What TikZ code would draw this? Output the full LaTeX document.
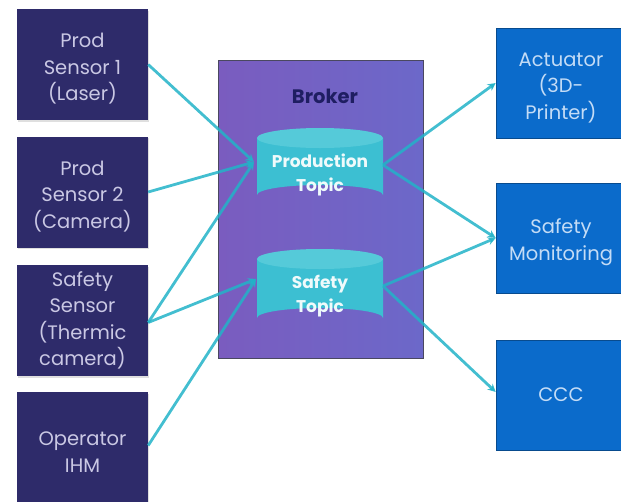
\documentclass[tikz,border=0pt]{standalone}
\usepackage{fontspec}
\setmainfont{Poppins}
\usetikzlibrary{arrows.meta,shadows}

\definecolor{sensorfill}{HTML}{2E2B6A}
\definecolor{sensortext}{HTML}{CAC8E4}
\definecolor{outfill}{HTML}{0B6BCB}
\definecolor{outtext}{HTML}{C4DCF6}
\definecolor{brokerA}{HTML}{7A5CBF}
\definecolor{brokerB}{HTML}{6C68C9}
\definecolor{brokerline}{HTML}{4A4860}
\definecolor{brokertext}{HTML}{1F1E62}
\definecolor{topicbody}{HTML}{3CBFD2}
\definecolor{topictop}{HTML}{55CAD9}
\definecolor{linkcol}{HTML}{22B3C8}

% a strut on the first line lowers the label a little inside its box
\newcommand{\firstlinestrut}{\rule{0pt}{23pt}}

\tikzset{
  sensorbox/.style={rectangle, fill=sensorfill, text=sensortext, minimum width=131pt,
    minimum height=111pt, align=center, font=\fontsize{19.5}{26.5}\selectfont,
    drop shadow={opacity=0.25, shadow xshift=0.6pt, shadow yshift=-1.5pt}},
  outbox/.style={rectangle, fill=outfill, text=outtext, minimum width=130pt,
    minimum height=110pt, align=center, font=\fontsize{19.5}{26.5}\selectfont,
    draw=outfill!70!black, line width=0.6pt, inner sep=1pt},
  topiclabel/.style={text=white!92!topicbody, align=center, inner sep=0pt,
    minimum width=126pt, minimum height=40pt, font=\bfseries\fontsize{17}{23.5}\selectfont},
  link/.style={draw=linkcol, opacity=0.85, line width=2.8pt,
    -{Stealth[length=8pt,width=8pt]}},
}

\begin{document}
\begin{tikzpicture}[x=1pt,y=-1pt]
\useasboundingbox (0,0) rectangle (621,501);
\clip (0,0) rectangle (621,501);

% producers on the left
\node[sensorbox] (s1) at (82.5,64.5) {\firstlinestrut Prod\\Sensor 1\\(Laser)};
\node[sensorbox] (s2) at (82.5,192) {\firstlinestrut Prod\\Sensor 2\\(Camera)};
\node[sensorbox, inner sep=0pt] (s3) at (82.5,320.5) {Safety\\Sensor\\(Thermic\\camera)};
\node[sensorbox] (s4) at (82.5,447.5) {\firstlinestrut Operator\\IHM};

% broker
\node[rectangle, minimum width=205pt, minimum height=298pt, draw=brokerline,
  line width=0.8pt, left color=brokerA, right color=brokerB] (broker) at (320.5,209) {};
\node[text=brokertext, font=\bfseries\fontsize{19.5}{22}\selectfont] (brokerlbl) at (325,96) {Broker};

% production topic cylinder
\fill[topicbody] (257,138) -- (257,195) arc[start angle=180, end angle=360, x radius=63, y radius=10] -- (383,138) -- cycle;
\fill[topictop] (320,138) ellipse[x radius=63, y radius=10];
\node[topiclabel] (prod) at (320,175) {Production\\Topic};

% safety topic cylinder
\fill[topicbody] (257,259) -- (257,318) arc[start angle=180, end angle=360, x radius=63, y radius=10] -- (383,259) -- cycle;
\fill[topictop] (320,259) ellipse[x radius=63, y radius=10];
\node[topiclabel] (safe) at (320,296) {Safety\\Topic};

\coordinate (prodin) at (254,162);
\coordinate (prodout) at (383,165);
\coordinate (safein) at (256,279);
\coordinate (safeout) at (383,286);

% consumers on the right
\node[outbox] (act) at (561,83) {\firstlinestrut Actuator\\(3D-\\Printer)};
\node[outbox] (mon) at (561,238) {\firstlinestrut Safety\\Monitoring};
\node[outbox] (ccc) at (561,395) {CCC};

% links into the broker
\draw[link] (s1.east) -- (prodin);
\draw[link] (s2.east) -- (prodin);
\draw[link] ([yshift=-2pt]s3.east) -- (prodin);
\draw[link] ([yshift=-2pt]s3.east) -- (safein);
\draw[link] ([yshift=2pt]s4.east) -- (safein);

% links out of the broker
\draw[link] (prodout) -- (act.west);
\draw[link] (prodout) -- (mon.west);
\draw[link] (safeout) -- (mon.west);
\draw[link] (safeout) -- ([yshift=3pt]ccc.west);
\end{tikzpicture}
\end{document}
